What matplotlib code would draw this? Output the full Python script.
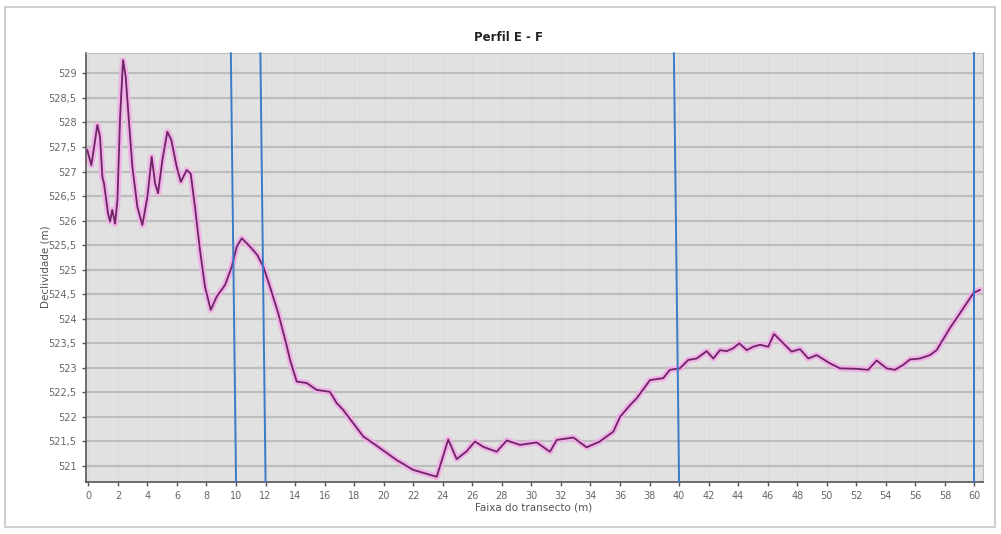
import matplotlib
matplotlib.use("Agg")
import matplotlib.pyplot as plt
from matplotlib.patches import Rectangle
from matplotlib.ticker import FuncFormatter, MultipleLocator

# Terrain profile along the transect (distance in m, elevation in m)
distance = [-0.07, 0.2, 0.39, 0.61, 0.79, 0.95, 1.06, 1.18, 1.33, 1.47, 1.62, 1.81,
            1.97, 2.15, 2.35, 2.53, 2.76, 2.98, 3.32, 3.66, 4.0, 4.29, 4.52, 4.72,
            5.01, 5.35, 5.62, 5.98, 6.26, 6.66, 6.93, 7.22, 7.56, 7.9, 8.29, 8.69,
            9.26, 9.71, 10.05, 10.39, 10.95, 11.44, 11.85, 12.3, 12.86, 13.39,
            13.66, 14.11, 14.79, 15.46, 16.36, 16.82, 17.26, 18.62, 19.3, 20.88,
            22.0, 23.59, 24.37, 24.94, 25.62, 26.18, 26.74, 27.65, 28.33, 29.23,
            30.36, 31.26, 31.71, 32.84, 33.74, 34.64, 35.55, 36.0, 36.68, 37.13,
            38.03, 38.93, 39.38, 40.06, 40.62, 41.19, 41.87, 42.32, 42.77, 43.22,
            43.67, 44.08, 44.58, 45.02, 45.48, 46.04, 46.43, 47.06, 47.62, 48.19,
            48.75, 49.32, 50.22, 50.89, 52.02, 52.81, 53.38, 54.05, 54.62, 55.18,
            55.63, 56.31, 56.99, 57.44, 58.34, 59.24, 59.92, 60.37]
elevation = [527.44, 527.13, 527.5, 527.95, 527.71, 526.89, 526.76, 526.49, 526.15,
             525.98, 526.22, 525.94, 526.42, 528.12, 529.27, 528.93, 527.98, 527.1,
             526.28, 525.91, 526.49, 527.3, 526.76, 526.56, 527.23, 527.81, 527.64,
             527.1, 526.79, 527.03, 526.96, 526.28, 525.4, 524.65, 524.18, 524.45,
             524.69, 525.06, 525.47, 525.64, 525.47, 525.3, 525.06, 524.65, 524.11,
             523.5, 523.16, 522.72, 522.69, 522.55, 522.51, 522.28, 522.14, 521.6,
             521.46, 521.12, 520.92, 520.78, 521.54, 521.14, 521.3, 521.5, 521.39,
             521.29, 521.52, 521.43, 521.48, 521.29, 521.53, 521.58, 521.38, 521.5,
             521.7, 522.0, 522.24, 522.38, 522.75, 522.79, 522.96, 522.99, 523.16,
             523.19, 523.34, 523.19, 523.36, 523.34, 523.4, 523.5, 523.36, 523.43,
             523.47, 523.43, 523.69, 523.5, 523.33, 523.38, 523.19, 523.26, 523.09,
             522.99, 522.98, 522.96, 523.15, 522.99, 522.96, 523.06, 523.17, 523.19,
             523.26, 523.36, 523.81, 524.21, 524.52, 524.59]

# Section markers (x at the base and at the top of each marker line)
marker_base = [10, 12, 40, 60]
marker_top = [9.65, 11.65, 39.65, 60]

x_ticks = list(range(0, 61, 2))
y_min, y_max = 520.68, 529.41

fig = plt.figure(figsize=(10.01, 5.34), dpi=100)
fig.patch.set_facecolor("white")
fig.patches.append(Rectangle((5 / 1001, 1 - 527 / 534), 990 / 1001, 520 / 534,
                             transform=fig.transFigure, fill=False,
                             edgecolor="#c8c8c8", lw=1.2))

ax = fig.add_axes([0.0856, 0.098, 0.8967, 0.8022])
ax.set_facecolor("#e1e1e1")
ax.set_xlim(-0.18, 60.6)
ax.set_ylim(y_min, y_max)

ax.yaxis.set_major_locator(MultipleLocator(0.5))
ax.set_xticks(x_ticks)
ax.yaxis.set_major_formatter(FuncFormatter(lambda v, p: f"{v:g}".replace(".", ",")))
ax.grid(axis="y", color="#bdbdbd", lw=1.6, zorder=0)
ax.grid(axis="x", color="#d9d9d9", lw=0.6, zorder=0)
ax.set_axisbelow(True)

for s in ["top", "right"]:
    ax.spines[s].set_color("#bcbcbc")
    ax.spines[s].set_linewidth(0.8)
for s in ["left", "bottom"]:
    ax.spines[s].set_color("#555555")
    ax.spines[s].set_linewidth(1.2)

ax.tick_params(axis="both", colors="#555555", labelcolor="#666666", labelsize=7,
               length=3, width=1)

# Profile line with a soft pink halo
ax.plot(distance, elevation, color="#f0b2e6", lw=4.5, solid_capstyle="round",
        solid_joinstyle="round", zorder=2)
ax.plot(distance, elevation, color="#6e2466", lw=1.3, solid_joinstyle="round",
        solid_capstyle="round", zorder=3)

for xb, xt in zip(marker_base, marker_top):
    ax.plot([xb, xt], [y_min, y_max], color="#3a7bc8", lw=1.4, zorder=4, clip_on=False)

fig.text(0.508, 0.929, "Perfil E - F", ha="center", va="center", fontsize=8.5,
         fontweight="bold", color="#222222")
fig.text(0.533, 0.049, "Faixa do transecto (m)", ha="center", va="center",
         fontsize=7.5, color="#555555")
fig.text(0.045, 0.5, "Declividade (m)", ha="center", va="center", rotation=90,
         fontsize=7.5, color="#555555")

fig.savefig("out.png", dpi=100)
